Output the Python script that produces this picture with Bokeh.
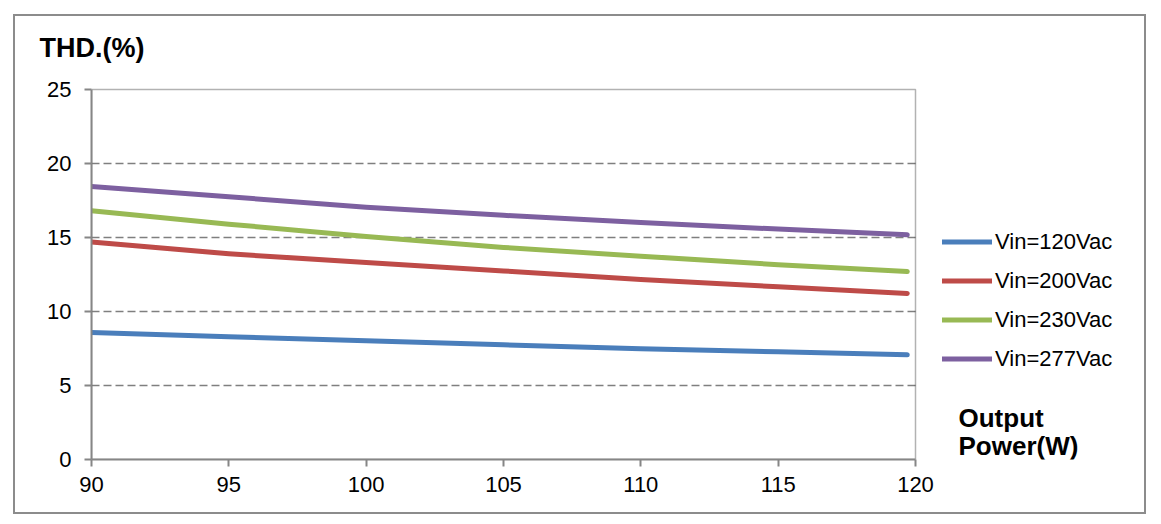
from bokeh.plotting import figure
from bokeh.models import Range1d, FixedTicker, Legend, LegendItem, Label, BoxAnnotation
from bokeh.embed import file_html
from bokeh.resources import INLINE

# ---- data ----
power = [90, 95, 100, 105, 110, 115, 119.7]
vin_120 = [8.58, 8.30, 8.02, 7.75, 7.48, 7.28, 7.07]
vin_200 = [14.69, 13.90, 13.31, 12.74, 12.17, 11.67, 11.22]
vin_230 = [16.80, 15.90, 15.07, 14.33, 13.74, 13.16, 12.70]
vin_277 = [18.45, 17.75, 17.05, 16.50, 16.01, 15.57, 15.18]
series_names = ["Vin=120Vac", "Vin=200Vac", "Vin=230Vac", "Vin=277Vac"]
series_colors = ["#4a7ebb", "#be4b48", "#98b954", "#7d60a0"]
x_ticks = [90, 95, 100, 105, 110, 115, 120]
y_ticks = [0, 5, 10, 15, 20, 25]
y_title = "THD.(%)"
x_title_lines = ["Output", "Power(W)"]

FONT = "Liberation Sans"

# ---- layout (pixels) ----
W, H = 1133, 500
LEFT, RIGHT, TOP, BOTTOM = 76, 0, 53, 57
AREA_W, AREA_H = 824, 370           # plot-area size of the 90..120 x 0..25 box
frame_w = W - LEFT - RIGHT
frame_h = H - TOP - BOTTOM
x0, x1 = x_ticks[0], x_ticks[-1]
y0, y1 = y_ticks[0], y_ticks[-1]
ppx = AREA_W / (x1 - x0)            # px per x unit
ppy = AREA_H / (y1 - y0)            # px per y unit

p = figure(width=W, height=H,
           x_range=Range1d(x0, x0 + frame_w / ppx),
           y_range=Range1d(y0, y0 + frame_h / ppy),
           output_backend="svg", toolbar_location=None,
           min_border_left=LEFT, min_border_right=RIGHT,
           min_border_top=TOP, min_border_bottom=BOTTOM)
p.styles = {"border": "2px solid #8c8c8c", "margin-left": "13px", "margin-top": "14px"}
p.outline_line_color = None
p.background_fill_color = "white"
p.border_fill_color = "white"

p.title.text = y_title
p.title.align = "left"
p.title.offset = -52
p.title.standoff = 14
p.title.text_font = FONT
p.title.text_font_size = "27px"
p.title.text_font_style = "bold"
p.title.text_color = "#000000"

# plot-area box: black top/right edges (left/bottom covered by the gray axes)
p.add_layout(BoxAnnotation(left=x0, right=x1, bottom=y0, top=y1, fill_alpha=0,
                           line_color="#000000", line_width=1.5, level="underlay"))

p.xgrid.visible = False
p.yaxis.ticker = FixedTicker(ticks=y_ticks)
p.xaxis.ticker = FixedTicker(ticks=x_ticks)
p.xaxis.bounds = (x0, x1)
p.yaxis.bounds = (y0, y1)
g = p.ygrid[0]
g.ticker = FixedTicker(ticks=y_ticks[1:-1])
g.grid_line_color = "#7f7f7f"
g.grid_line_dash = "8 4"
g.grid_line_width = 1.5
if hasattr(g, "cross_bounds"):
    g.cross_bounds = (x0, x1)
else:
    g.visible = False
    p.segment(x0=[x0] * len(y_ticks[1:-1]), x1=[x1] * len(y_ticks[1:-1]),
              y0=y_ticks[1:-1], y1=y_ticks[1:-1], line_color="#7f7f7f",
              line_dash="8 4", line_width=1.5, level="underlay")

for ax in p.axis:
    ax.axis_line_color = "#868686"
    ax.axis_line_width = 2
    ax.major_tick_line_color = "#868686"
    ax.major_tick_line_width = 2
    ax.major_tick_in = 0
    ax.major_tick_out = 7
    ax.minor_tick_line_color = None
    ax.major_label_text_font = FONT
    ax.major_label_text_font_size = "22px"
    ax.major_label_text_color = "#000000"
p.xaxis.major_label_standoff = 10
p.yaxis.major_label_standoff = 13

renderers = []
for ys, c in zip([vin_120, vin_200, vin_230, vin_277], series_colors):
    r = p.line(power, ys, line_color=c, line_width=5, line_cap="round", line_join="round")
    renderers.append(r)

legend = Legend(items=[LegendItem(label=n, renderers=[r]) for n, r in zip(series_names, renderers)],
                location=(851, 81), border_line_color=None, background_fill_alpha=0,
                padding=0, margin=0, spacing=0, glyph_width=50, glyph_height=39,
                label_height=39, label_standoff=3, label_text_font=FONT,
                label_text_font_size="22px", label_text_color="#000000")
p.add_layout(legend)

# axis title at the lower right of the plot area
lx = x0 + 867 / ppx
for txt, base_px in zip(x_title_lines, [42.0, 13.5]):
    p.add_layout(Label(x=lx, y=y0 + base_px / ppy, text=txt, text_font=FONT,
                       text_font_size="26px", text_font_style="bold",
                       text_baseline="alphabetic", text_color="#000000"))

open("out.html", "w").write(file_html(p, INLINE))
